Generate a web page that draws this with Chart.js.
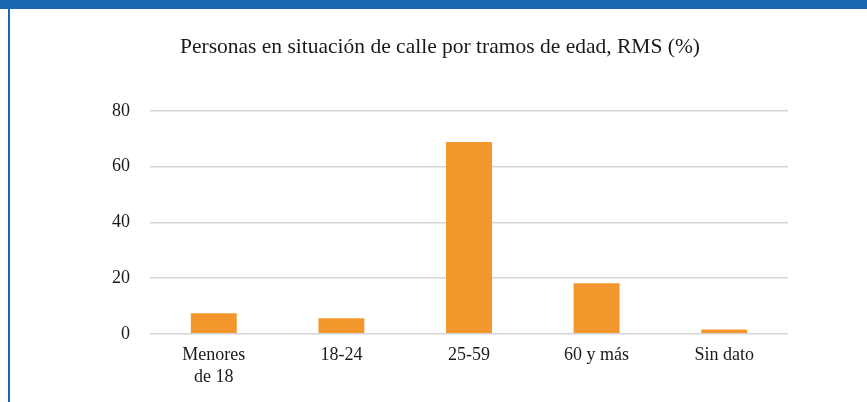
<!DOCTYPE html>
<html>
<head>
<meta charset="utf-8">
<script src="https://cdn.jsdelivr.net/npm/chart.js@4"></script>
<style>
  html, body { margin: 0; padding: 0; background: #fff; }
  #frame { position: relative; width: 867px; height: 402px; overflow: hidden; }
  #topbar { position: absolute; left: 0; top: 0; width: 867px; height: 9px; background: #1b66b0; }
  #leftline { position: absolute; left: 8px; top: 9px; width: 2px; height: 393px; background: #1b66b0; }
  canvas { position: absolute; left: 0; top: 0; }
</style>
</head>
<body>
<div id="frame">
  <canvas id="chart" width="867" height="402"></canvas>
  <div id="topbar"></div>
  <div id="leftline"></div>
</div>
<script>
// Chart data
const CATEGORIES = [['Menores', 'de 18'], '18-24', '25-59', '60 y más', 'Sin dato'];
const VALUES = [7.4, 5.6, 68.8, 18.1, 1.5];
const Y_TICKS = [0, 20, 40, 60, 80];
const TITLE = 'Personas en situación de calle por tramos de edad, RMS (%)';

const SERIF = "'Liberation Serif', 'DejaVu Serif', serif";

new Chart(document.getElementById('chart'), {
  type: 'bar',
  data: {
    labels: CATEGORIES,
    datasets: [{
      data: VALUES,
      backgroundColor: '#f3972c',
      borderWidth: 0,
      categoryPercentage: 1.0,
      barPercentage: 0.36
    }]
  },
  options: {
    responsive: false,
    animation: false,
    layout: { padding: { left: 92, right: 79, top: 20, bottom: 3 } },
    plugins: {
      legend: { display: false },
      tooltip: { enabled: false },
      title: {
        display: true,
        text: TITLE,
        color: '#1a1a1a',
        font: { family: SERIF, size: 21.5, weight: 'normal' },
        padding: { top: 14, bottom: 51 }
      }
    },
    scales: {
      x: {
        grid: { display: false, drawTicks: false },
        border: { display: false },
        ticks: {
          color: '#1a1a1a',
          font: { family: SERIF, size: 18 },
          padding: 11,
          maxRotation: 0,
          autoSkip: false
        }
      },
      y: {
        min: 0,
        max: 80,
        afterBuildTicks: (axis) => { axis.ticks = Y_TICKS.map(v => ({ value: v })); },
        grid: { color: '#d4d4d4', lineWidth: 1.5, drawTicks: false },
        border: { display: false },
        ticks: {
          color: '#1a1a1a',
          font: { family: SERIF, size: 18 },
          padding: 20
        }
      }
    }
  }
});
</script>
</body>
</html>
